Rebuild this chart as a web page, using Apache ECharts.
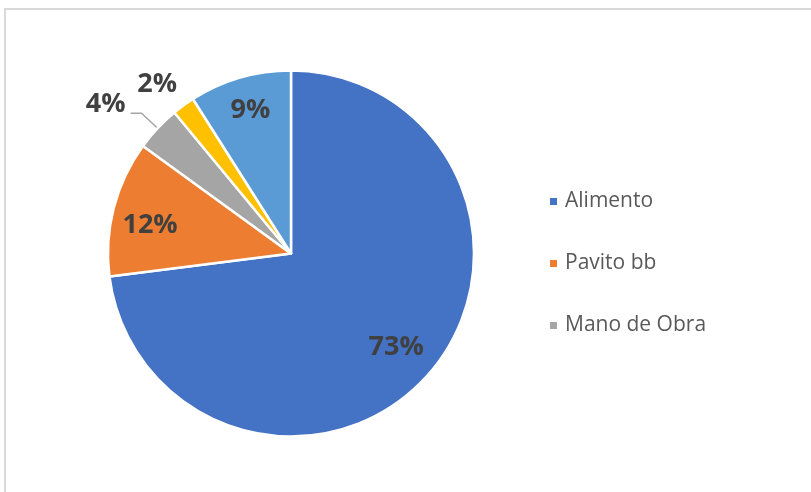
<!DOCTYPE html>
<html><head><meta charset="utf-8">
<script src="https://cdn.jsdelivr.net/npm/echarts@6/dist/echarts.min.js"></script>
<style>html,body{margin:0;padding:0;background:#fff}#c{width:811px;height:492px}</style>
</head><body><div id="c"></div>
<script>
const categories = ['Alimento', 'Pavito bb', 'Mano de Obra', 'Sanidad', 'Otros'];
const values = [73, 12, 4, 2, 9];
const legendItems = ['Alimento', 'Pavito bb', 'Mano de Obra'];
const colors = ['#4472C4', '#ED7D31', '#A5A5A5', '#FFC000', '#5B9BD5'];
const insideLabels = [true, true, false, false, true];

const chart = echarts.init(document.getElementById('c'), null, {renderer: 'canvas'});
const labelFont = {fontFamily: '"Open Sans", "Noto Sans", sans-serif', fontSize: 27, fontWeight: 'bold', color: '#404040'};
const center = [291, 253.5];

const mainData = categories.map((n, i) => ({
  name: n, value: values[i],
  itemStyle: {color: colors[i]},
  label: insideLabels[i] ? {show: false} : {show: true},
  labelLine: i === 2 ? {show: true, length: 22, length2: 11} : {show: false, length: 28, length2: 0}
}));
const overlayData = categories.map((n, i) => ({
  name: n, value: values[i],
  itemStyle: {color: 'rgba(0,0,0,0)', borderWidth: 0},
  label: {show: insideLabels[i]}
}));

chart.setOption({
  animation: false,
  graphic: [{type: 'rect', silent: true, z: -10,
    shape: {x: 5, y: 9, width: 1000, height: 1000},
    style: {fill: 'none', stroke: '#D9D9D9', lineWidth: 2}}],
  legend: {
    data: legendItems, orient: 'vertical', left: 543, top: 186,
    icon: 'rect', itemWidth: 9, itemHeight: 9, itemGap: 41,
    textStyle: {fontFamily: '"Open Sans", "Noto Sans", sans-serif', fontSize: 21, color: '#595959', padding: [0, 0, 0, 2]},
    selectedMode: false
  },
  series: [
    {
      type: 'pie', center: center, radius: [0, 183], startAngle: 90, clockwise: true,
      avoidLabelOverlap: false,
      itemStyle: {borderColor: '#fff', borderWidth: 2.5},
      label: Object.assign({position: 'outside', formatter: '{c}%'}, labelFont),
      labelLine: {lineStyle: {color: '#A5A5A5', width: 1.5}, smooth: false},
      labelLayout: function (p) {
        if (p.dataIndex === 3) return {dx: 15, dy: 2};
        if (p.dataIndex === 2) return {dy: -9};
        return {};
      },
      emphasis: {disabled: true},
      data: mainData
    },
    {
      type: 'pie', center: center, radius: [102, 183], startAngle: 90, clockwise: true,
      silent: true, legendHoverLink: false,
      label: Object.assign({position: 'inside', formatter: '{c}%'}, labelFont),
      labelLine: {show: false},
      labelLayout: function (p) {
        if (p.dataIndex === 1) return {dy: 8};
        if (p.dataIndex === 0) return {dx: -4, dy: -2};
        if (p.dataIndex === 4) return {dy: -3};
        return {};
      },
      emphasis: {disabled: true},
      data: overlayData
    }
  ]
});
</script></body></html>
